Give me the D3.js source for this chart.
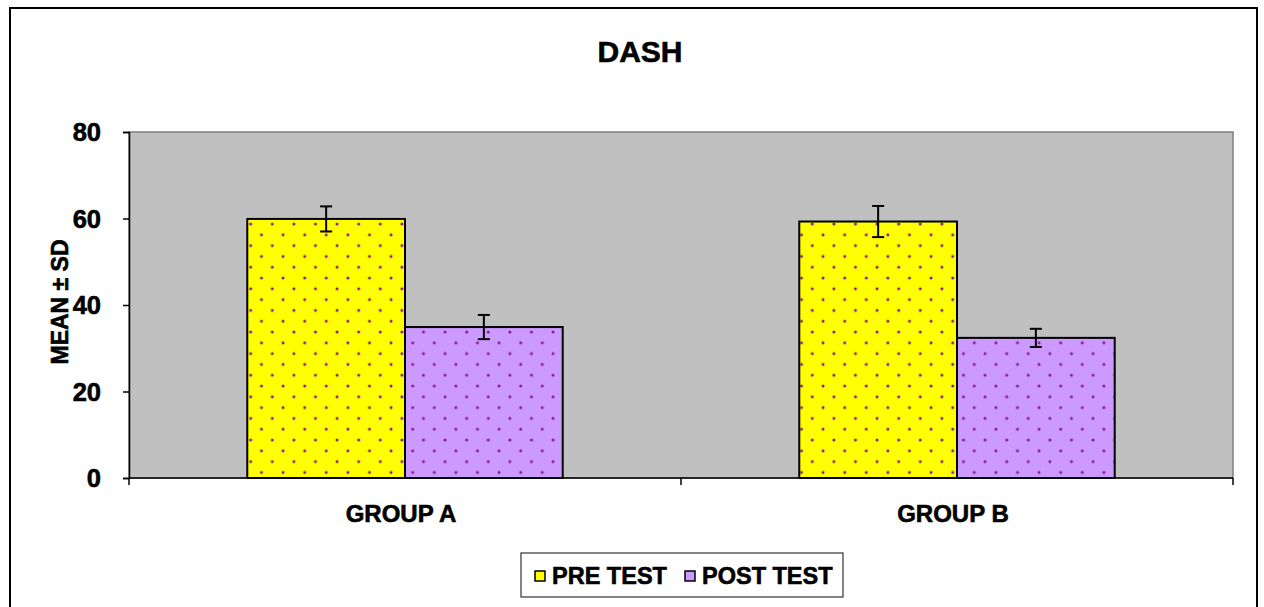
<!DOCTYPE html>
<html>
<head>
<meta charset="utf-8">
<script src="https://cdn.jsdelivr.net/npm/d3@7"></script>
<style>
  html, body { margin: 0; padding: 0; background: #fff; }
  svg { display: block; }
  text { font-family: Arial, "Liberation Sans", sans-serif; font-weight: bold; fill: #000; }
</style>
</head>
<body>
<svg id="chart" width="1264" height="607"></svg>
<script>
const title = "DASH";
const yAxisLabel = "MEAN ± SD";
const categories = ["GROUP A", "GROUP B"];
const seriesNames = ["PRE TEST", "POST TEST"];
const preValues = [59.9, 59.3];
const preSD = [2.9, 3.6];
const postValues = [34.9, 32.4];
const postSD = [2.8, 2.1];
const yTicks = [0, 20, 40, 60, 80];

const seriesColors = ["#FFFF00", "#CC99FF"];

const svg = d3.select("#chart");
const plot = { left: 129, right: 1233, top: 132, bottom: 478 };
const heavy = sel => sel.attr("stroke", "#000").attr("stroke-width", 0.6).attr("paint-order", "stroke");

// outer border
svg.append("rect").attr("x", 10).attr("y", 8).attr("width", 1247).attr("height", 640)
  .attr("fill", "#fff").attr("stroke", "#000").attr("stroke-width", 2);

// patterns
const defs = svg.append("defs");
seriesColors.forEach((c, i) => {
  const p = defs.append("pattern").attr("id", "pat" + i)
    .attr("patternUnits", "userSpaceOnUse")
    .attr("width", 21.6).attr("height", 21.6)
    .attr("x", 250.7).attr("y", 224);
  p.append("rect").attr("width", 21.6).attr("height", 21.6).attr("fill", c);
  [[0,0],[21.6,0],[0,21.6],[21.6,21.6],[10.8,10.8]].forEach(([cx, cy]) =>
    p.append("circle").attr("cx", cx).attr("cy", cy).attr("r", 1.5).attr("fill", "#86198A"));
});

// plot area background
svg.append("rect").attr("x", plot.left).attr("y", plot.top)
  .attr("width", plot.right - plot.left).attr("height", plot.bottom - plot.top)
  .attr("fill", "#C0C0C0").attr("stroke", "#808080").attr("stroke-width", 1.5);

const x0 = d3.scaleBand().domain(categories).range([plot.left, plot.right]).padding(0);
const x1 = d3.scaleBand().domain(seriesNames).range([0, x0.bandwidth()]).paddingInner(0).paddingOuter(0.75);
const y = d3.scaleLinear().domain([0, 80]).range([plot.bottom, plot.top]);

const data = [];
categories.forEach((c, i) => {
  data.push({ cat: c, s: seriesNames[0], v: preValues[i], sd: preSD[i], k: 0 });
  data.push({ cat: c, s: seriesNames[1], v: postValues[i], sd: postSD[i], k: 1 });
});

// bars
svg.append("g").selectAll("rect").data(data).join("rect")
  .attr("x", d => x0(d.cat) + x1(d.s))
  .attr("y", d => y(d.v))
  .attr("width", x1.bandwidth())
  .attr("height", d => y(0) - y(d.v))
  .attr("fill", d => "url(#pat" + d.k + ")")
  .attr("stroke", "#000").attr("stroke-width", 2);

// error bars
const eb = svg.append("g").attr("stroke", "#000").attr("stroke-width", 2);
data.forEach(d => {
  const cx = x0(d.cat) + x1(d.s) + x1.bandwidth() / 2;
  eb.append("line").attr("x1", cx).attr("x2", cx).attr("y1", y(d.v + d.sd)).attr("y2", y(d.v - d.sd));
  eb.append("line").attr("x1", cx - 6).attr("x2", cx + 6).attr("y1", y(d.v + d.sd)).attr("y2", y(d.v + d.sd));
  eb.append("line").attr("x1", cx - 6).attr("x2", cx + 6).attr("y1", y(d.v - d.sd)).attr("y2", y(d.v - d.sd));
});

// y axis
const yAxis = d3.axisLeft(y).tickValues(yTicks).tickSize(6).tickPadding(22);
const gy = svg.append("g").attr("transform", `translate(${plot.left},0)`).call(yAxis);
gy.select(".domain").attr("stroke", "#000").attr("stroke-width", 1.5);
gy.selectAll(".tick line").attr("stroke", "#000").attr("stroke-width", 1.5);
gy.selectAll(".tick text").attr("font-size", 25.5).attr("font-family", "Arial, 'Liberation Sans', sans-serif")
  .attr("font-weight", "bold").attr("fill", "#000").attr("dy", "0.34em").call(heavy);

// x axis
const gx = svg.append("g").attr("transform", `translate(0,${plot.bottom})`);
gx.append("line").attr("x1", plot.left).attr("x2", plot.right).attr("y1", 0).attr("y2", 0)
  .attr("stroke", "#000").attr("stroke-width", 1.5);
const boundaries = [plot.left, ...categories.map(c => x0(c) + x0.bandwidth())];
gx.selectAll(".xt").data(boundaries).join("line")
  .attr("x1", d => d).attr("x2", d => d).attr("y1", 0).attr("y2", 7)
  .attr("stroke", "#000").attr("stroke-width", 1.5);
gx.selectAll(".xl").data(categories).join("text")
  .attr("x", d => x0(d) + x0.bandwidth() / 2 - 4)
  .attr("y", 44)
  .attr("text-anchor", "middle")
  .attr("font-size", 24)
  .text(d => d).call(heavy);

// title
svg.append("text").attr("x", 640).attr("y", 62).attr("text-anchor", "middle")
  .attr("font-size", 30).text(title).call(heavy);

// y label
svg.append("text").attr("transform", `translate(68,${(plot.top + plot.bottom) / 2 - 3}) rotate(-90)`)
  .attr("text-anchor", "middle").attr("font-size", 23).text(yAxisLabel).call(heavy);

// legend
const lg = svg.append("g");
lg.append("rect").attr("x", 521).attr("y", 553).attr("width", 322).attr("height", 44)
  .attr("fill", "#fff").attr("stroke", "#333").attr("stroke-width", 1.2);
const legendX = [535, 685];
seriesNames.forEach((s, i) => {
  lg.append("rect").attr("x", legendX[i]).attr("y", 571).attr("width", 10).attr("height", 10)
    .attr("fill", seriesColors[i]).attr("stroke", "#000").attr("stroke-width", 1.5);
  lg.append("text").attr("x", legendX[i] + 17).attr("y", 583.5).attr("font-size", 23.5).text(s).call(heavy);
});
</script>
</body>
</html>
